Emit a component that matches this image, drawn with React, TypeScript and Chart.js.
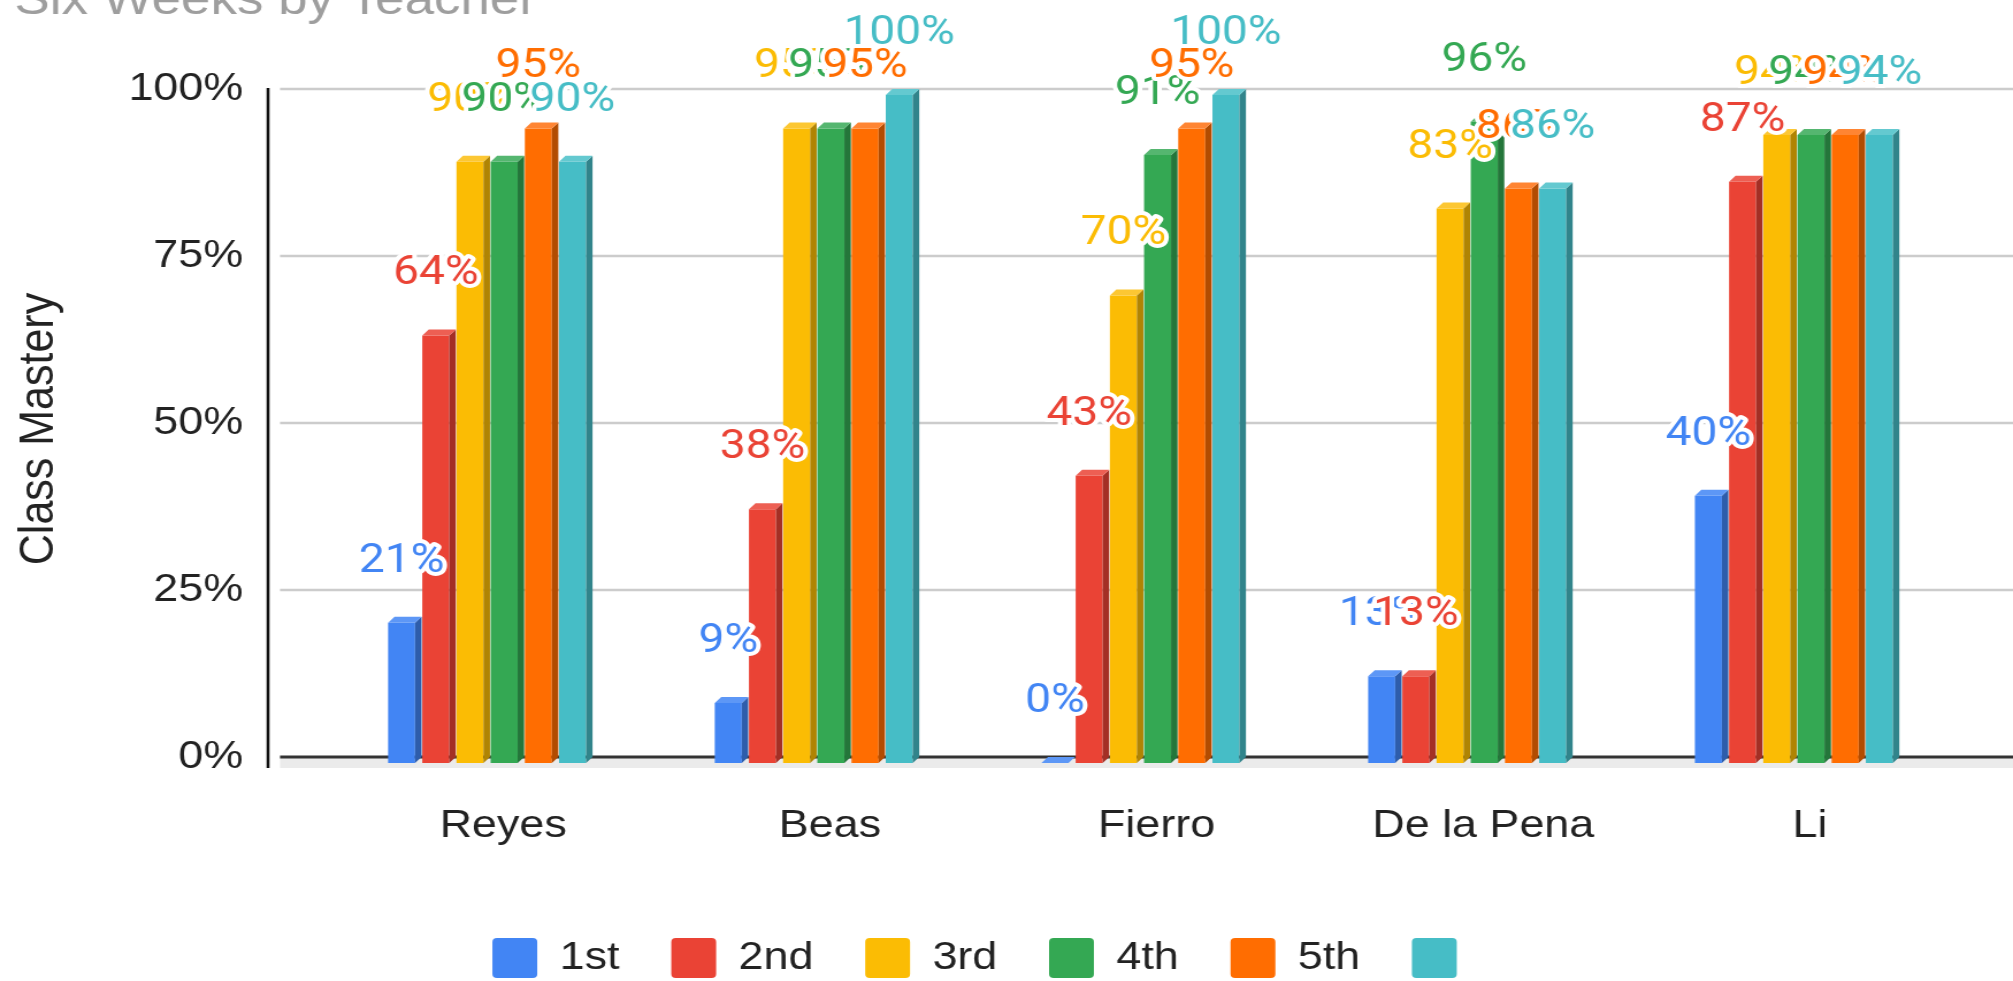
import { useEffect, useRef } from 'react';
import { Chart, registerables } from 'chart.js';

Chart.register(...registerables);

// ---- data ----
const categories = ['Reyes', 'Beas', 'Fierro', 'De la Pena', 'Li'];
const seriesNames = ['1st', '2nd', '3rd', '4th', '5th', ''];
const first = [21, 9, 0, 13, 40];
const second = [64, 38, 43, 13, 87];
const third = [90, 95, 70, 83, 94];
const fourth = [90, 95, 91, 96, 94];
const fifth = [95, 95, 95, 86, 94];
const sixth = [90, 100, 100, 86, 94];
const yTicks = [0, 25, 50, 75, 100];

const seriesValues = [first, second, third, fourth, fifth, sixth];
const frontColors = ['#4285F4', '#EA4335', '#FBBC04', '#34A853', '#FF6D01', '#46BDC6'];
const sideColors = ['#2e5dab', '#a42f25', '#b08403', '#24763a', '#b24c01', '#31848b'];
const topColors = ['#5d97f6', '#ed5f53', '#fcc733', '#55b670', '#ff8533', '#64c9d0'];

// ---- layout constants (canvas drawn at CW internal width, shown at CSS_W) ----
const CW = 1750;
const CH = 981;
const CSS_W = 2013;
const DX = 5.65;
const DY = 6;
const AXIS_X = 233;
const GRID_X0 = 243.4;
const FONT = "'Liberation Sans', Arial, sans-serif";

const backdrop = {
  id: 'backdrop3d',
  beforeDatasetsDraw(chart: any) {
    const ctx = chart.ctx;
    const y = chart.scales.y;
    const right = chart.width;
    ctx.save();
    ctx.strokeStyle = '#cccccc';
    ctx.lineWidth = 2.5;
    yTicks.forEach((t) => {
      if (t === 0) return;
      const py = y.getPixelForValue(t) - DY;
      ctx.beginPath();
      ctx.moveTo(GRID_X0, py);
      ctx.lineTo(right, py);
      ctx.stroke();
    });
    const p0 = y.getPixelForValue(0) - DY;
    ctx.fillStyle = '#ebebeb';
    ctx.fillRect(GRID_X0, p0, right - GRID_X0, 11);
    ctx.strokeStyle = '#333333';
    ctx.lineWidth = 3;
    ctx.beginPath();
    ctx.moveTo(GRID_X0, p0);
    ctx.lineTo(right, p0);
    ctx.stroke();
    ctx.strokeStyle = '#111111';
    ctx.lineWidth = 2.6;
    ctx.beginPath();
    ctx.moveTo(AXIS_X, y.getPixelForValue(100) - DY - 1);
    ctx.lineTo(AXIS_X, p0 + 11);
    ctx.stroke();
    ctx.restore();
  },
  afterDatasetsDraw(chart: any) {
    const ctx = chart.ctx;
    ctx.save();
    chart.data.datasets.forEach((_ds: any, i: number) => {
      const meta = chart.getDatasetMeta(i);
      meta.data.forEach((bar: any) => {
        const { x, y, base, width } = bar.getProps(['x', 'y', 'base', 'width'], true);
        const l = x - width / 2;
        const r = x + width / 2;
        ctx.fillStyle = sideColors[i];
        ctx.beginPath();
        ctx.moveTo(r, y);
        ctx.lineTo(r + DX, y - DY);
        ctx.lineTo(r + DX, base - DY);
        ctx.lineTo(r, base);
        ctx.closePath();
        ctx.fill();
        ctx.fillStyle = topColors[i];
        ctx.beginPath();
        ctx.moveTo(l, y);
        ctx.lineTo(l + DX, y - DY);
        ctx.lineTo(r + DX, y - DY);
        ctx.lineTo(r, y);
        ctx.closePath();
        ctx.fill();
      });
    });
    ctx.font = "40px Roboto, 'Liberation Sans', sans-serif";
    ctx.textAlign = 'center';
    ctx.textBaseline = 'alphabetic';
    ctx.lineJoin = 'round';
    ctx.lineWidth = 8;
    ctx.strokeStyle = '#ffffff';
    chart.data.datasets.forEach((ds: any, i: number) => {
      const meta = chart.getDatasetMeta(i);
      meta.data.forEach((bar: any, j: number) => {
        const { x, y } = bar.getProps(['x', 'y'], true);
        const text = `${ds.data[j]}%`;
        const ty = y - 51;
        ctx.strokeText(text, x, ty);
        ctx.fillStyle = frontColors[i];
        ctx.fillText(text, x, ty);
      });
    });
    ctx.restore();
  },
};

export default function App() {
  const ref = useRef<HTMLCanvasElement | null>(null);

  useEffect(() => {
    if (!ref.current) return;
    Chart.defaults.font.family = FONT;
    const chart = new Chart(ref.current, {
      type: 'bar',
      data: {
        labels: categories,
        datasets: seriesValues.map((vals, i) => ({
          label: seriesNames[i],
          data: vals,
          backgroundColor: frontColors[i],
          borderWidth: 0,
          barPercentage: 0.79,
          categoryPercentage: 0.628,
        })),
      },
      options: {
        responsive: false,
        animation: false,
        layout: { padding: { left: 12.5, right: 48.5, top: 0, bottom: -7 } },
        plugins: {
          tooltip: { enabled: false },
          title: {
            display: true,
            text: 'Six Weeks by Teacher',
            align: 'start',
            color: '#9e9e9e',
            font: { size: 46, family: FONT, weight: 'normal' },
            padding: { top: -26.5, bottom: 66.3 },
          },
          legend: {
            position: 'bottom',
            labels: {
              boxWidth: 39,
              boxHeight: 40,
              padding: 45,
              color: '#222222',
              font: { size: 39, family: FONT },
              useBorderRadius: true,
              borderRadius: 4,
            },
          },
        },
        scales: {
          x: {
            type: 'category',
            offset: true,
            grid: { display: false, drawTicks: false },
            border: { display: false },
            ticks: {
              padding: 40,
              labelOffset: 14,
              color: '#222222',
              font: { size: 39, family: FONT },
              autoSkip: false,
              maxRotation: 0,
            },
            afterFit: (s: any) => {
              s.height = 130;
            },
          },
          y: {
            min: 0,
            max: 100,
            grid: { display: false, drawTicks: false },
            border: { display: false },
            afterBuildTicks: (s: any) => {
              s.ticks = yTicks.map((v) => ({ value: v }));
            },
            ticks: {
              padding: 70,
              labelOffset: -6,
              color: '#222222',
              font: { size: 39, family: FONT },
              callback: (v: any) => `${v}%`,
            },
            title: {
              display: true,
              text: 'Class Mastery',
              color: '#222222',
              font: { size: 43, family: FONT, lineHeight: 1 },
              padding: { top: 0, bottom: 0 },
            },
            afterFit: (s: any) => {
              s.width = 268.9;
            },
          },
        },
      } as any,
      plugins: [backdrop],
    });
    return () => chart.destroy();
  }, []);

  return (
    <div style={{ position: 'fixed', left: 0, top: 0, width: CSS_W, height: CH, overflow: 'hidden', background: '#fff' }}>
      <canvas ref={ref} width={CW} height={CH} style={{ width: `${CSS_W}px`, height: `${CH}px`, display: 'block' }} />
    </div>
  );
}
